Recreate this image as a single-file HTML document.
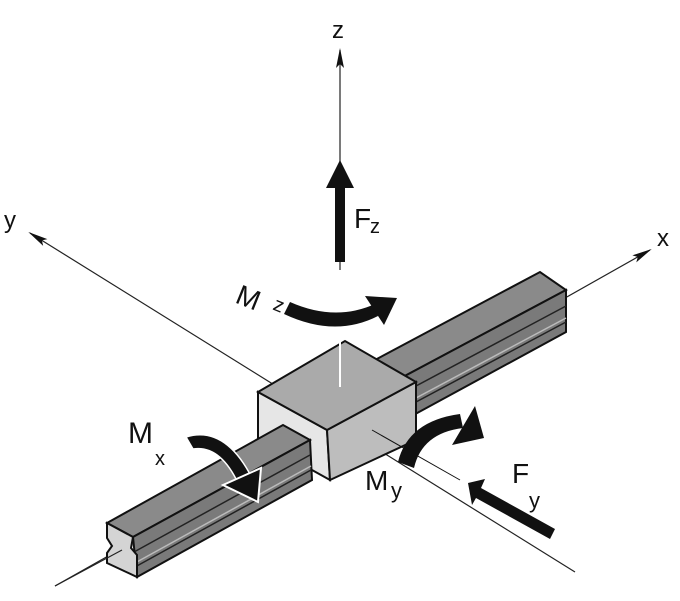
<!DOCTYPE html>
<html><head><meta charset="utf-8"><style>
html,body{margin:0;padding:0;background:#fff}
svg{display:block}
text{font-family:"Liberation Sans",sans-serif;fill:#111}
</style></head><body>
<svg width="680" height="601" viewBox="0 0 680 601" xmlns="http://www.w3.org/2000/svg">
<defs>
<marker id="ah" markerWidth="20" markerHeight="10" refX="18" refY="5" orient="auto" markerUnits="userSpaceOnUse">
<path d="M0,1 L20,5 L0,9 L4,5 Z" fill="#111"/>
</marker>
</defs>
<line x1="55" y1="586" x2="650" y2="250" stroke="#222" stroke-width="1.2" marker-end="url(#ah)"/>
<line x1="575" y1="572" x2="30" y2="233" stroke="#222" stroke-width="1.2" marker-end="url(#ah)"/>
<line x1="340" y1="270" x2="340" y2="50" stroke="#222" stroke-width="1.2" marker-end="url(#ah)"/>
<text x="332" y="38" font-size="24">z</text>
<text x="657" y="246" font-size="24">x</text>
<text x="4" y="228" font-size="24">y</text>
<polygon points="360,368 540,272 566,290 386,386" fill="#8a8a8a" stroke="#111" stroke-width="2"/>
<polygon points="386,386 566,290 566,332 386,430" fill="#7a7a7a" stroke="#111" stroke-width="2"/>
<line x1="386" y1="402" x2="566" y2="306" stroke="#222" stroke-width="1.5"/>
<line x1="386" y1="414" x2="566" y2="318" stroke="#bbb" stroke-width="1.5"/>
<line x1="386" y1="418" x2="566" y2="322" stroke="#222" stroke-width="1.5"/>
<polygon points="258,392 327,430 330,480 258,440" fill="#e6e6e6" stroke="#111" stroke-width="2"/>
<polygon points="327,430 416,382 416,440 330,480" fill="#bdbdbd" stroke="#111" stroke-width="2"/>
<polygon points="258,392 345,341 416,382 327,430" fill="#aaaaaa" stroke="#111" stroke-width="2"/>
<line x1="340" y1="330" x2="340" y2="387" stroke="#fff" stroke-width="2"/>
<line x1="372" y1="430" x2="460" y2="480" stroke="#111" stroke-width="1"/>
<polygon points="107,523 283,425 310,440 133,537" fill="#8a8a8a" stroke="#111" stroke-width="2"/>
<polygon points="133,537 310,440 312,480 137,577" fill="#7a7a7a" stroke="#111" stroke-width="2"/>
<line x1="134" y1="552" x2="310" y2="455" stroke="#222" stroke-width="1.5"/>
<line x1="135" y1="563" x2="311" y2="466" stroke="#bbb" stroke-width="1.5"/>
<line x1="135" y1="567" x2="311" y2="470" stroke="#222" stroke-width="1.5"/>
<polygon points="107,523 133,537 131,548 137,555 137,577 107,563 107,553 112,546 107,538" fill="#d4d4d4" stroke="#111" stroke-width="2"/>
<line x1="55" y1="586" x2="122" y2="550" stroke="#222" stroke-width="1.2"/>
<polygon points="335,262 345,262 345,188 354,188 340,160 326,188 335,188" fill="#111"/>
<text x="354" y="228" font-size="28">F</text>
<text x="370" y="233" font-size="20">z</text>
<path d="M284,314 Q335,338 378,316 L375,304 Q335,322 290,302 Z" fill="#111"/>
<polygon points="365,296 397,298 384,325" fill="#111"/>
<text x="236" y="308" font-size="28" transform="rotate(22 250 300)">M</text>
<text x="274" y="312" font-size="20" transform="rotate(22 280 305)">z</text>
<path d="M186,437 Q225,425 252,478 L238,483 Q220,445 193,449 Z" fill="#111" stroke="#fff" stroke-width="1.5"/>
<polygon points="223,485 261,468 258,502" fill="#111" stroke="#fff" stroke-width="2"/>
<text x="128" y="443" font-size="30">M</text>
<text x="155" y="465" font-size="20">x</text>
<path d="M398,462 Q408,421 460,414 L463,428 Q422,433 414,468 Z" fill="#111"/>
<polygon points="475,406 484,438 452,445" fill="#111"/>
<text x="365" y="490" font-size="28">M</text>
<text x="391" y="498" font-size="22">y</text>
<polygon points="468,483 485,479 481,488 555,529 550,539 476,498 472,505" fill="#111"/>
<text x="512" y="483" font-size="28">F</text>
<text x="529" y="508" font-size="22">y</text>
</svg>
</body></html>
